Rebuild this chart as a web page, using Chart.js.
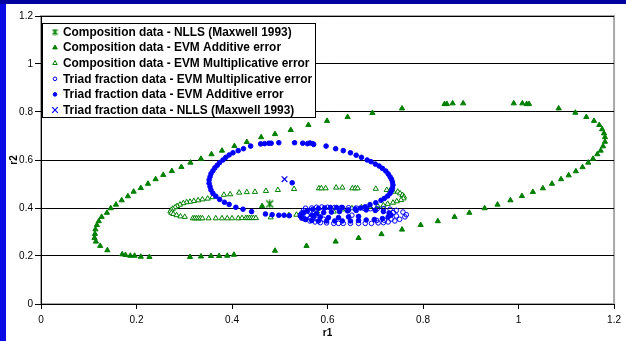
<!DOCTYPE html>
<html>
<head>
<meta charset="utf-8">
<script src="https://cdn.jsdelivr.net/npm/chart.js@4/dist/chart.umd.min.js"></script>
<style>
  html, body { margin: 0; padding: 0; background: #ffffff; }
  #wrap { width: 626px; height: 341px; position: relative; }
</style>
</head>
<body>
<div id="wrap"><canvas id="c" width="626" height="341"></canvas></div>
<script>
// Axis ticks
const xTicks = [0, 0.2, 0.4, 0.6, 0.8, 1, 1.2];
const yTicks = [0, 0.2, 0.4, 0.6, 0.8, 1, 1.2];

// Series names (legend order)
const seriesNames = [
  'Composition data - NLLS (Maxwell 1993)',
  'Composition data - EVM Additive error',
  'Composition data - EVM Multiplicative error',
  'Triad fraction data - EVM Multiplicative error',
  'Triad fraction data - EVM Additive error',
  'Triad fraction data - NLLS (Maxwell 1993)'
];

// [r1, r2] pairs
const compNlls = [[0.479, 0.417]];

const compAdditive = [
  [0.170,0.207],[0.177,0.204],[0.187,0.201],[0.196,0.201],[0.209,0.197],[0.227,0.196],
  [0.312,0.196],[0.335,0.198],[0.356,0.200],[0.373,0.200],[0.390,0.201],[0.404,0.205],
  [0.490,0.222],[0.556,0.242],[0.617,0.260],[0.665,0.275],[0.713,0.291],[0.756,0.310],
  [0.795,0.329],[0.831,0.345],[0.866,0.363],[0.897,0.380],[0.929,0.399],[0.956,0.414],
  [0.983,0.432],[1.007,0.450],[1.030,0.467],[1.051,0.482],[1.070,0.501],[1.089,0.520],
  [1.105,0.536],[1.120,0.553],[1.134,0.570],[1.146,0.589],[1.156,0.605],[1.165,0.624],
  [1.172,0.639],[1.177,0.657],[1.181,0.676],[1.181,0.695],[1.179,0.711],[1.175,0.728],
  [1.169,0.746],[1.158,0.763],[1.142,0.779],[1.119,0.797],[1.084,0.815],
  [1.022,0.833],[1.017,0.833],[1.008,0.836],[0.990,0.836],[0.884,0.836],[0.862,0.836],
  [0.850,0.833],[0.845,0.833],
  [0.756,0.815],[0.694,0.796],[0.642,0.779],[0.599,0.763],[0.560,0.746],[0.523,0.725],
  [0.490,0.708],[0.461,0.695],[0.431,0.675],[0.405,0.658],[0.379,0.639],[0.357,0.624],
  [0.335,0.605],[0.313,0.589],[0.294,0.571],[0.274,0.554],[0.256,0.538],[0.240,0.520],
  [0.224,0.501],[0.209,0.483],[0.194,0.468],[0.182,0.449],[0.169,0.432],[0.157,0.414],
  [0.146,0.399],[0.138,0.380],[0.127,0.363],[0.121,0.345],[0.117,0.329],[0.114,0.311],
  [0.113,0.292],[0.112,0.275],[0.115,0.260],[0.124,0.242],[0.139,0.224],
  [0.463,0.408]
];

const compMultiplicative = [
  [0.383,0.455],[0.396,0.457],[0.415,0.464],[0.431,0.466],[0.448,0.467],[0.471,0.471],
  [0.496,0.475],[0.530,0.479],[0.582,0.482],[0.587,0.482],[0.596,0.482],[0.618,0.485],
  [0.631,0.485],[0.652,0.482],[0.658,0.482],[0.663,0.482],[0.701,0.480],
  [0.724,0.475],[0.731,0.473],[0.738,0.468],[0.747,0.468],[0.752,0.461],[0.757,0.454],
  [0.760,0.447],[0.759,0.440],[0.754,0.433],[0.745,0.428],[0.737,0.422],[0.726,0.417],
  [0.717,0.411],[0.705,0.408],[0.688,0.406],[0.671,0.403],[0.651,0.399],[0.631,0.394],
  [0.613,0.385],[0.578,0.385],[0.535,0.372],[0.519,0.370],[0.481,0.361],
  [0.359,0.445],[0.349,0.439],[0.338,0.436],[0.329,0.432],[0.320,0.429],[0.312,0.426],
  [0.305,0.424],[0.298,0.420],[0.291,0.414],[0.285,0.408],[0.281,0.403],[0.276,0.397],
  [0.273,0.392],[0.271,0.386],[0.273,0.380],[0.277,0.375],[0.284,0.370],[0.292,0.365],
  [0.301,0.363],
  [0.318,0.357],[0.322,0.357],[0.326,0.357],[0.330,0.357],[0.334,0.357],[0.338,0.357],
  [0.351,0.357],[0.366,0.357],[0.379,0.357],[0.390,0.357],[0.400,0.357],[0.413,0.357],
  [0.421,0.358],[0.429,0.358],[0.433,0.358],[0.437,0.358],[0.441,0.358],[0.445,0.358],
  [0.450,0.358]
];

const triadMultiplicative = [
  [0.554,0.399],[0.567,0.400],[0.577,0.403],[0.588,0.404],[0.600,0.403],[0.615,0.402],
  [0.629,0.402],[0.644,0.401],[0.660,0.400],[0.676,0.399],[0.690,0.397],[0.704,0.397],
  [0.717,0.397],[0.731,0.395],[0.744,0.390],[0.758,0.383],[0.765,0.372],[0.762,0.363],
  [0.751,0.353],[0.741,0.346],[0.727,0.342],[0.717,0.339],[0.706,0.338],[0.692,0.336],
  [0.679,0.336],[0.665,0.336],[0.648,0.336],[0.633,0.336],[0.623,0.336],[0.613,0.336],
  [0.598,0.338],[0.585,0.339],[0.574,0.342],[0.563,0.346],[0.552,0.354],[0.546,0.365],
  [0.546,0.379],[0.550,0.390],
  [0.557,0.370],[0.564,0.358],[0.578,0.353],[0.592,0.353],[0.651,0.370],
  [0.738,0.381],[0.744,0.367],[0.733,0.354],[0.719,0.349],[0.703,0.348]
];

const triadAdditive = [
  [0.439,0.658],[0.424,0.647],[0.413,0.639],[0.402,0.630],[0.394,0.621],[0.387,0.611],
  [0.381,0.600],[0.374,0.589],[0.369,0.578],[0.364,0.567],[0.360,0.555],[0.356,0.543],
  [0.354,0.530],[0.352,0.517],[0.352,0.503],[0.354,0.489],[0.356,0.475],[0.360,0.461],
  [0.366,0.449],[0.374,0.436],[0.384,0.424],[0.394,0.415],[0.408,0.403],[0.423,0.395],
  [0.441,0.385],[0.470,0.375],[0.484,0.372],[0.498,0.370],[0.509,0.370],[0.520,0.368],
  [0.460,0.667],[0.468,0.668],[0.477,0.670],[0.482,0.670],[0.498,0.672],[0.531,0.672],
  [0.548,0.670],[0.558,0.668],[0.563,0.671],[0.569,0.668],[0.571,0.665],
  [0.597,0.658],[0.617,0.647],[0.633,0.639],[0.648,0.630],[0.660,0.620],[0.671,0.611],
  [0.683,0.600],[0.691,0.593],[0.700,0.583],[0.708,0.575],[0.715,0.565],[0.722,0.554],
  [0.727,0.542],[0.731,0.530],[0.734,0.520],[0.736,0.508],[0.737,0.496],[0.736,0.483],
  [0.734,0.472],[0.731,0.461],[0.726,0.450],[0.719,0.440],[0.712,0.432],[0.701,0.422],
  [0.689,0.414],[0.679,0.405],[0.669,0.400],[0.658,0.396],[0.644,0.392],
  [0.631,0.402],[0.619,0.402],[0.606,0.402],[0.594,0.400],[0.581,0.398],[0.569,0.394],
  [0.558,0.388],[0.550,0.381],[0.544,0.373],[0.543,0.367],[0.546,0.358],[0.554,0.352],
  [0.567,0.348],[0.581,0.346],[0.598,0.346],[0.615,0.346],[0.631,0.346],[0.648,0.346],
  [0.665,0.348],[0.681,0.350],[0.698,0.352],[0.715,0.356],[0.727,0.363],[0.733,0.371],
  [0.729,0.379],[0.717,0.385],[0.700,0.390],[0.681,0.392],[0.660,0.390],[0.642,0.388],
  [0.625,0.385],[0.608,0.383],[0.592,0.381],[0.577,0.377],[0.567,0.371],[0.571,0.365],
  [0.585,0.363],[0.602,0.360],[0.623,0.360],[0.644,0.363],[0.665,0.365],
  [0.526,0.505]
];

const triadNlls = [[0.510, 0.520]];

const GREEN = '#008000';
const BLUE = '#0000ff';

// asterisk-like marker: an X crossed by a vertical stroke
function starMarker(color, size) {
  const c = document.createElement('canvas');
  c.width = size; c.height = size;
  const g = c.getContext('2d');
  const e = size - 1;
  g.strokeStyle = color;
  g.lineWidth = 1.4;
  g.beginPath();
  g.moveTo(1, 1); g.lineTo(e, e);
  g.moveTo(e, 1); g.lineTo(1, e);
  g.moveTo(size / 2, 0.5); g.lineTo(size / 2, size - 0.5);
  g.stroke();
  return c;
}

const toPts = arr => arr.map(p => ({ x: p[0], y: p[1] }));

const styles = [
  { pointStyle: starMarker(GREEN, 9), legendStyle: starMarker(GREEN, 7), radius: 4, legendR: 3, bg: GREEN, border: GREEN, bw: 1 },
  { pointStyle: 'triangle', radius: 3, legendR: 2.6, bg: GREEN, border: GREEN, bw: 1 },
  { pointStyle: 'triangle', radius: 3, legendR: 2.6, bg: '#ffffff', border: GREEN, bw: 1 },
  { pointStyle: 'circle', radius: 2.3, legendR: 1.8, bg: 'rgba(0,0,0,0)', border: BLUE, bw: 1 },
  { pointStyle: 'circle', radius: 2.3, legendR: 1.8, bg: BLUE, border: BLUE, bw: 1 },
  { pointStyle: 'crossRot', radius: 4, legendR: 4, bg: BLUE, border: BLUE, bw: 1.2 }
];

const seriesData = [compNlls, compAdditive, compMultiplicative, triadMultiplicative, triadAdditive, triadNlls];

const datasets = seriesData.map((d, i) => ({
  label: seriesNames[i],
  data: toPts(d),
  pointStyle: styles[i].pointStyle,
  pointRadius: styles[i].radius,
  pointHoverRadius: styles[i].radius,
  backgroundColor: styles[i].bg,
  borderColor: styles[i].border,
  borderWidth: styles[i].bw,
  showLine: false,
  order: seriesData.length - i
}));

const fmt = v => String(Math.round(v * 10) / 10);

// page frame, plot-area border
const framePlugin = {
  id: 'frame',
  beforeDraw(chart) {
    const { ctx, chartArea: a } = chart;
    ctx.save();
    ctx.fillStyle = '#ffffff';
    ctx.fillRect(0, 0, chart.width, chart.height);
    ctx.fillStyle = '#0000a0';
    ctx.fillRect(0, 0, chart.width, 4);
    ctx.fillStyle = '#0a0ae6';
    ctx.fillRect(0, 4, 6, chart.height - 4);
    ctx.strokeStyle = '#a8a8a8';
    ctx.lineWidth = 2;
    ctx.strokeRect(a.left, a.top, a.right - a.left, a.bottom - a.top);
    ctx.restore();
  }
};

// boxed legend in the upper-left of the plot
const legendBoxPlugin = {
  id: 'legendBox',
  afterDatasetsDraw(chart) {
    const { ctx } = chart;
    const box = { x: 42.5, y: 23.5, w: 273, h: 94 };
    ctx.save();
    ctx.fillStyle = '#ffffff';
    ctx.fillRect(box.x, box.y, box.w, box.h);
    ctx.strokeStyle = '#000000';
    ctx.lineWidth = 1;
    ctx.strokeRect(box.x, box.y, box.w, box.h);
    ctx.font = 'bold 11.9px "Liberation Sans", Arial, sans-serif';
    ctx.textBaseline = 'middle';
    ctx.textAlign = 'left';
    chart.data.datasets.forEach((ds, i) => {
      const y = 32 + i * 15.6;
      const st = styles[i];
      ctx.fillStyle = st.bg;
      ctx.strokeStyle = st.border;
      ctx.lineWidth = st.bw;
      Chart.helpers.drawPoint(ctx, { pointStyle: st.legendStyle || st.pointStyle, radius: st.legendR, rotation: 0, borderWidth: st.bw }, 55, y);
      ctx.fillStyle = '#000000';
      ctx.fillText(ds.label, 63, y + 0.5);
    });
    ctx.restore();
  }
};

new Chart(document.getElementById('c'), {
  type: 'scatter',
  data: { datasets },
  options: {
    responsive: false,
    animation: false,
    devicePixelRatio: 1,
    layout: { padding: { left: 0, top: 16, right: 9, bottom: 0 } },
    plugins: { legend: { display: false }, tooltip: { enabled: false } },
    scales: {
      x: {
        type: 'linear',
        min: xTicks[0],
        max: xTicks[xTicks.length - 1],
        afterBuildTicks: s => { s.ticks = xTicks.map(v => ({ value: v })); },
        afterFit: s => { s.height = 37; },
        ticks: {
          callback: fmt,
          color: '#000000',
          font: { family: '"Liberation Sans", Arial, sans-serif', size: 10 },
          padding: 5,
          maxRotation: 0,
          autoSkip: false
        },
        grid: { drawOnChartArea: false, drawTicks: true, tickLength: 5, color: '#000000', lineWidth: 1 },
        border: { color: '#000000', width: 1 },
        title: {
          display: true,
          text: 'r1',
          color: '#000000',
          font: { family: '"Liberation Sans", Arial, sans-serif', size: 10, weight: 'bold' },
          padding: { top: 0, bottom: 2 }
        }
      },
      y: {
        type: 'linear',
        min: yTicks[0],
        max: yTicks[yTicks.length - 1],
        afterBuildTicks: s => { s.ticks = yTicks.map(v => ({ value: v })); },
        afterFit: s => { s.width = 41; },
        ticks: {
          callback: fmt,
          color: '#000000',
          font: { family: '"Liberation Sans", Arial, sans-serif', size: 10 },
          padding: 2,
          autoSkip: false
        },
        grid: { drawOnChartArea: true, drawTicks: true, tickLength: 6, color: '#000000', lineWidth: 1 },
        border: { color: '#000000', width: 1 },
        title: {
          display: true,
          text: 'r2',
          color: '#000000',
          font: { family: '"Liberation Sans", Arial, sans-serif', size: 10, weight: 'bold' },
          padding: { top: 8, bottom: 0 }
        }
      }
    }
  },
  plugins: [framePlugin, legendBoxPlugin]
});
</script>
</body>
</html>
